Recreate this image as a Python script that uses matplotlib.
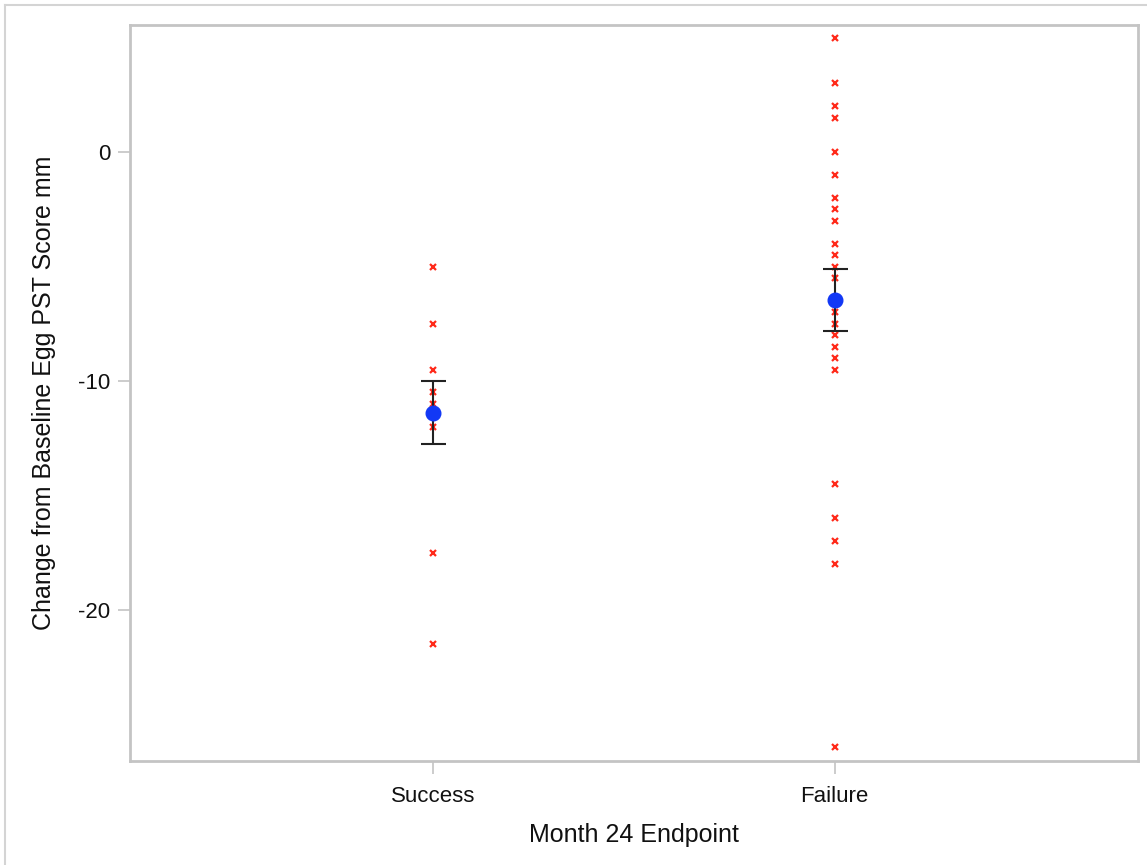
import matplotlib
matplotlib.use("Agg")
from matplotlib import pyplot as plt
from matplotlib.lines import Line2D

plt.rcParams['font.family'] = ['Liberation Sans', 'DejaVu Sans']

categories = ["Success", "Failure"]

# individual subject values
success_vals = [-5.0, -7.5, -9.5, -10.5, -11.0, -12.0, -17.5, -21.5]
failure_vals = [5.0, 3.0, 2.0, 1.5, 0.0, -1.0, -2.0, -2.5, -3.0, -4.0, -4.5,
                -5.0, -5.5, -6.5, -7.0, -7.5, -8.0, -8.5, -9.0, -9.5,
                -14.5, -16.0, -17.0, -18.0, -26.0]

# means with lower / upper error bar limits
means = [-11.4, -6.45]
lower = [-12.75, -7.8]
upper = [-10.0, -5.1]

fig = plt.figure(figsize=(11.47, 8.65), dpi=100)
ax = fig.add_axes([130 / 1147, 1 - 761 / 865, 1008 / 1147, 736 / 865])

for i, vals in enumerate([success_vals, failure_vals]):
    ax.plot([i] * len(vals), vals, linestyle="none", marker="x", color="#ff2a1a",
            markersize=4.5, markeredgewidth=1.6, zorder=2)

err = [[m - lo for m, lo in zip(means, lower)], [hi - m for m, hi in zip(means, upper)]]
ax.errorbar(range(len(categories)), means, yerr=err, fmt="none", ecolor="#222222",
            elinewidth=1.5, capsize=9, capthick=1.5, zorder=3)
ax.plot(range(len(categories)), means, linestyle="none", marker="o", color="#1238f5",
        markersize=10.5, zorder=4)

ax.set_xlim(-0.756, 1.756)
ax.set_ylim(-26.6, 5.55)
ax.set_xticks(range(len(categories)))
ax.set_xticklabels(categories)
ax.set_yticks([0, -10, -20])
ax.set_yticklabels(["0", "-10", "-20"])

for s in ax.spines.values():
    s.set_color("#c4c4c4")
    s.set_linewidth(2)
ax.tick_params(colors="#c4c4c4", labelcolor="#111111", labelsize=16, length=9,
               width=1.2)
ax.tick_params(axis="x", pad=9)
ax.tick_params(axis="y", pad=5)

ax.set_xlabel("Month 24 Endpoint", fontsize=18, color="#111111")
ax.set_ylabel("Change from Baseline Egg PST Score mm", fontsize=18, color="#111111")
ax.xaxis.set_label_coords(0.5, -0.084)
ax.yaxis.set_label_coords(-0.073, 0.5)

# light outer frame of the graph area
fig.add_artist(Line2D([5 / 1147, 5 / 1147], [0, 1 - 5 / 865], transform=fig.transFigure,
                      color="#d4d4d4", linewidth=1.5))
fig.add_artist(Line2D([5 / 1147, 1], [1 - 5 / 865, 1 - 5 / 865], transform=fig.transFigure,
                      color="#d4d4d4", linewidth=1.5))

fig.savefig("out.png", dpi=100)
